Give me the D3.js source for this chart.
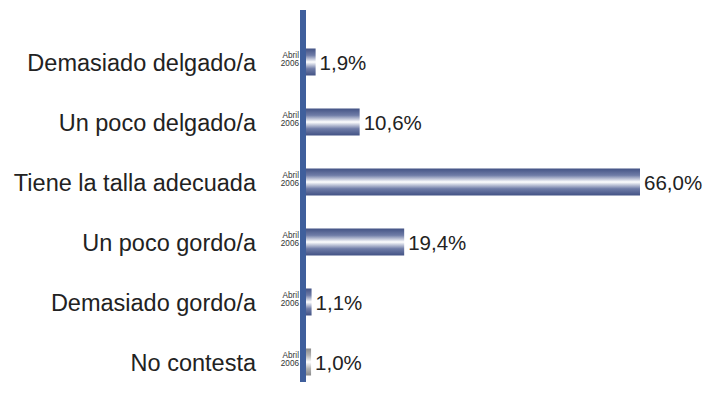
<!DOCTYPE html>
<html>
<head>
<meta charset="utf-8">
<script src="https://cdn.jsdelivr.net/npm/d3@7"></script>
<style>
  body { margin: 0; background: #fff; }
  text { font-family: "Liberation Sans", Arial, sans-serif; }
</style>
</head>
<body>
<div id="chart"></div>
<script>
const categories = ['Demasiado delgado/a', 'Un poco delgado/a', 'Tiene la talla adecuada',
    'Un poco gordo/a', 'Demasiado gordo/a', 'No contesta'];
const values = [1.9, 10.6, 66.0, 19.4, 1.1, 1.0];
const period = ['Abril', '2006'];

function drawChart() {
    const width = 709;
    const height = 403;

    const svg = d3.select('#chart')
        .append('svg')
        .attr('width', width)
        .attr('height', height);

    const defs = svg.append('defs');

    // bar gradients: dark edges, white band in the middle
    const blue = defs.append('linearGradient')
        .attr('id', 'gradBlue')
        .attr('x1', 0).attr('y1', 0).attr('x2', 0).attr('y2', 1);
    [[0, '#435385'], [0.25, '#6f7ca7'], [0.5, '#ffffff'], [0.75, '#6f7ca7'], [1, '#435385']]
        .forEach(([o, c]) => blue.append('stop').attr('offset', o).attr('stop-color', c));

    const grey = defs.append('linearGradient')
        .attr('id', 'gradGrey')
        .attr('x1', 0).attr('y1', 0).attr('x2', 0).attr('y2', 1);
    [[0, '#8a8a8a'], [0.25, '#b3b3b3'], [0.5, '#ffffff'], [0.75, '#b3b3b3'], [1, '#8a8a8a']]
        .forEach(([o, c]) => grey.append('stop').attr('offset', o).attr('stop-color', c));

    const xScale = d3.scaleLinear().domain([0, 66]).range([306, 640]);

    const yScale = d3.scaleBand()
        .domain(categories)
        .range([32, 392])
        .paddingInner(0.55)
        .paddingOuter(0.275);

    const rows = svg.append('g')
        .selectAll('g')
        .data(categories)
        .join('g')
        .attr('transform', d => `translate(0, ${yScale(d)})`);

    const bh = yScale.bandwidth();

    rows.append('rect')
        .attr('x', xScale(0))
        .attr('y', 0)
        .attr('width', (d, i) => xScale(values[i]) - xScale(0))
        .attr('height', bh)
        .attr('fill', (d, i) => i === categories.length - 1 ? 'url(#gradGrey)' : 'url(#gradBlue)');

    rows.append('text')
        .attr('x', 256)
        .attr('y', bh / 2 + 8.5)
        .attr('text-anchor', 'end')
        .attr('font-size', 23.5)
        .attr('fill', '#222')
        .text(d => d);

    rows.append('text')
        .attr('x', (d, i) => xScale(values[i]) + 4)
        .attr('y', bh / 2 + 8)
        .attr('font-size', 20.5)
        .attr('fill', '#222')
        .text((d, i) => values[i].toFixed(1).replace('.', ',') + '%');

    rows.append('text')
        .attr('x', 299)
        .attr('y', bh / 2 - 4)
        .attr('text-anchor', 'end')
        .attr('font-size', 8.2)
        .attr('fill', '#333')
        .text(period[0]);

    rows.append('text')
        .attr('x', 299)
        .attr('y', bh / 2 + 3.5)
        .attr('text-anchor', 'end')
        .attr('font-size', 8.2)
        .attr('fill', '#333')
        .text(period[1]);

    // vertical axis bar
    svg.append('rect')
        .attr('x', 300)
        .attr('y', 10)
        .attr('width', 6)
        .attr('height', 372)
        .attr('fill', '#3f5f9c');
}

drawChart();
</script>
</body>
</html>
